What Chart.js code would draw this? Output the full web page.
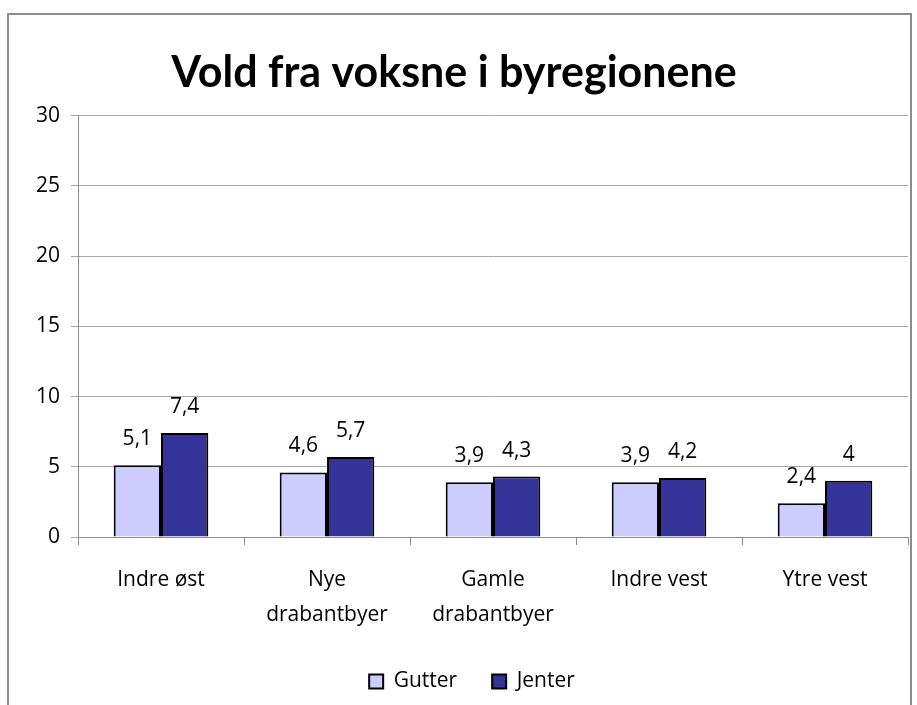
<!DOCTYPE html>
<html>
<head>
<meta charset="utf-8">
<script src="https://cdn.jsdelivr.net/npm/chart.js@4"></script>
<style>
  html, body { margin: 0; padding: 0; background: #fff; }
  #wrap { width: 917px; height: 705px; }
</style>
</head>
<body>
<div id="wrap"><canvas id="bar-chart"></canvas></div>
<script>
"use strict";

var regions = [
    "Indre øst",
    ["Nye", "drabantbyer"],
    ["Gamle", "drabantbyer"],
    "Indre vest",
    "Ytre vest",
];

var gutter = [5.1, 4.6, 3.9, 3.9, 2.4];
var jenter = [7.4, 5.7, 4.3, 4.2, 4];

var yTicks = [0, 5, 10, 15, 20, 25, 30];

var textFont = "'Open Sans', Lato, sans-serif";
var titleFont = "Lato, 'Open Sans', sans-serif";

// frame round the whole chart, like the Excel chart box
var framePlugin = {
    id: "frame",
    afterDraw: function (chart) {
        var c = chart.ctx;
        c.save();
        c.strokeStyle = "#8c8c8c";
        c.lineWidth = 2;
        c.beginPath();
        c.moveTo(8, 720);
        c.lineTo(8, 14);
        c.lineTo(911, 14);
        c.lineTo(911, 720);
        c.stroke();
        c.restore();
    },
};

// the Excel legend sits a bit right of centre
var legendShift = {
    id: "legendShift",
    afterLayout: function (chart) {
        if (chart.legend) {
            chart.legend.left += 18;
            chart.legend.right += 18;
        }
    },
};

// value labels above each bar, with comma decimals
var valueLabels = {
    id: "valueLabels",
    afterDatasetsDraw: function (chart) {
        var c = chart.ctx;
        c.save();
        c.font = "21px " + textFont;
        c.fillStyle = "#000";
        c.textAlign = "center";
        c.textBaseline = "middle";
        chart.data.datasets.forEach(function (ds, i) {
            chart.getDatasetMeta(i).data.forEach(function (bar, j) {
                var txt = String(ds.data[j]).replace(".", ",");
                c.fillText(txt, bar.x, bar.y - 26);
            });
        });
        c.restore();
    },
};

var ctx = document.getElementById("bar-chart").getContext("2d");

new Chart(ctx, {
    type: "bar",
    data: {
        labels: regions,
        datasets: [
            {
                label: "Gutter",
                data: gutter,
                backgroundColor: "#CCCCFF",
                borderColor: "#000",
                borderWidth: 2,
                borderSkipped: "bottom",
            },
            {
                label: "Jenter",
                data: jenter,
                backgroundColor: "#333399",
                borderColor: "#000",
                borderWidth: 2,
                borderSkipped: "bottom",
            },
        ],
    },
    options: {
        responsive: true,
        maintainAspectRatio: false,
        animation: false,
        datasets: {
            bar: {
                categoryPercentage: 0.57,
                barPercentage: 1,
            },
        },
        layout: {
            padding: { left: 0, right: 9, top: 6, bottom: 3 },
        },
        scales: {
            y: {
                min: 0,
                max: 30,
                afterFit: function (scale) {
                    scale.width = 78;
                },
                afterBuildTicks: function (scale) {
                    scale.ticks = yTicks.map(function (v) {
                        return { value: v };
                    });
                },
                border: { color: "#8c8c8c", width: 1 },
                grid: {
                    color: "#a6a6a6",
                    tickLength: 7,
                },
                ticks: {
                    color: "#000",
                    padding: 11,
                    font: { family: textFont, size: 21 },
                },
            },
            x: {
                afterFit: function (scale) {
                    scale.height = 99;
                },
                border: { color: "#8c8c8c", width: 1 },
                grid: {
                    drawOnChartArea: false,
                    color: "#8c8c8c",
                    tickLength: 8,
                },
                ticks: {
                    color: "#000",
                    padding: 18,
                    maxRotation: 0,
                    font: { family: textFont, size: 21, lineHeight: 1.65 },
                },
            },
        },
        plugins: {
            title: {
                display: true,
                text: "Vold fra voksne i byregionene",
                color: "#000",
                font: { family: titleFont, size: 43, weight: "bold" },
                padding: { top: 41, bottom: 17 },
            },
            legend: {
                display: true,
                position: "bottom",
                labels: {
                    color: "#000",
                    boxWidth: 14,
                    boxHeight: 14,
                    padding: 35,
                    font: { family: textFont, size: 21 },
                },
            },
            tooltip: { enabled: false },
        },
    },
    plugins: [framePlugin, legendShift, valueLabels],
});
</script>
</body>
</html>
